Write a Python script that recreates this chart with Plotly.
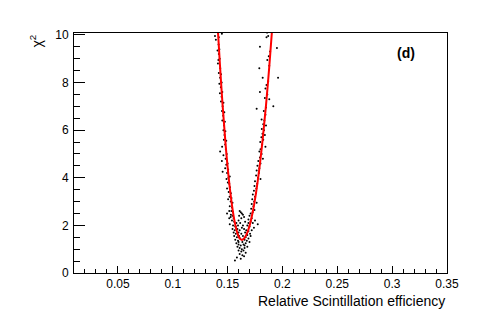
import plotly.graph_objects as go

# fitted curve
curve_x = [0.1410, 0.1430, 0.1455, 0.1480, 0.1505, 0.1535, 0.1560, 0.1585, 0.1610, 0.1630,
           0.1650, 0.1675, 0.1700, 0.1730, 0.1760, 0.1790, 0.1820, 0.1850, 0.1880, 0.1905]
curve_y = [10.32, 8.76, 7.02, 5.51, 4.23, 3.02, 2.26, 1.74, 1.45, 1.39,
           1.45, 1.64, 1.98, 2.58, 3.39, 4.40, 5.62, 7.04, 8.67, 10.19]

# scan points, left branch
left_x = [0.1405, 0.1412, 0.1448, 0.1385, 0.1420, 0.1393, 0.1418, 0.1425, 0.1408, 0.1420,
          0.1428, 0.1416, 0.1412, 0.1433, 0.1420, 0.1440, 0.1432, 0.1446, 0.1425, 0.1438,
          0.1452, 0.1430, 0.1445, 0.1440, 0.1462, 0.1455, 0.1449, 0.1470, 0.1460, 0.1452,
          0.1475, 0.1468, 0.1462, 0.1480, 0.1472, 0.1466, 0.1488, 0.1478, 0.1450, 0.1484,
          0.1432, 0.1492, 0.1462, 0.1482, 0.1448, 0.1500, 0.1488, 0.1478, 0.1505, 0.1495,
          0.1455, 0.1508, 0.1490, 0.1520, 0.1502, 0.1515, 0.1522, 0.1495, 0.1510, 0.1530,
          0.1518, 0.1535, 0.1505, 0.1528, 0.1545, 0.1520, 0.1540, 0.1535, 0.1550, 0.1515,
          0.1545, 0.1528]
left_y = [10.3, 10.1, 10.05, 9.95, 9.9, 9.8, 9.6, 9.4, 9.35, 9.2,
          9.0, 8.95, 8.8, 8.6, 8.4, 8.35, 8.2, 8.0, 7.95, 7.8,
          7.6, 7.55, 7.4, 7.2, 7.15, 7.0, 6.8, 6.75, 6.6, 6.4,
          6.35, 6.2, 6.0, 5.95, 5.8, 5.6, 5.55, 5.4, 5.3, 5.2,
          5.1, 5.0, 4.95, 4.8, 4.7, 4.6, 4.55, 4.4, 4.35, 4.2,
          4.25, 4.0, 3.95, 4.05, 3.8, 3.75, 3.6, 3.55, 3.4, 3.35,
          3.2, 3.15, 3.1, 3.0, 2.95, 2.8, 2.75, 2.6, 2.55, 2.6,
          2.4, 2.35]

# scan points, right branch
right_x = [0.1860, 0.1885, 0.1870, 0.1855, 0.1950, 0.1795, 0.1888, 0.1875, 0.1862, 0.1789,
           0.1880, 0.1960, 0.1820, 0.1870, 0.1855, 0.1845, 0.1795, 0.1862, 0.1840, 0.1880,
           0.1917, 0.1765, 0.1850, 0.1830, 0.1845, 0.1810, 0.1835, 0.1825, 0.1850, 0.1812,
           0.1832, 0.1818, 0.1840, 0.1808, 0.1825, 0.1798, 0.1815, 0.1845, 0.1800, 0.1790,
           0.1810, 0.1795, 0.1822, 0.1780, 0.1800, 0.1772, 0.1790, 0.1765, 0.1785, 0.1760,
           0.1778, 0.1800, 0.1750, 0.1770, 0.1745, 0.1762, 0.1740, 0.1758, 0.1730, 0.1750,
           0.1725, 0.1742, 0.1765, 0.1720, 0.1735, 0.1715, 0.1745, 0.1728, 0.1710]
right_y = [10.1, 10.2, 9.95, 9.9, 9.45, 9.5, 9.3, 9.1, 8.95, 8.6,
           8.7, 8.2, 8.2, 8.05, 7.9, 7.75, 7.6, 7.5, 7.35, 7.3,
           7.0, 6.9, 6.95, 6.8, 6.65, 6.45, 6.4, 6.25, 6.2, 6.05,
           6.0, 5.85, 5.8, 5.7, 5.6, 5.5, 5.4, 5.3, 5.2, 5.1,
           5.0, 4.85, 4.8, 4.7, 4.6, 4.5, 4.4, 4.3, 4.2, 4.1,
           4.0, 3.95, 3.85, 3.75, 3.65, 3.55, 3.45, 3.35, 3.3, 3.2,
           3.1, 3.0, 2.95, 2.9, 2.8, 2.7, 2.65, 2.55, 2.5]

# scan points, cloud around the minimum
bottom_x = [0.1495, 0.1530, 0.1555, 0.1610, 0.1620, 0.1630, 0.1605, 0.1640, 0.1650, 0.1625,
            0.1700, 0.1720, 0.1690, 0.1540, 0.1560, 0.1580, 0.1600, 0.1615, 0.1660, 0.1710,
            0.1730, 0.1750, 0.1775, 0.1520, 0.1550, 0.1570, 0.1595, 0.1640, 0.1680, 0.1700,
            0.1740, 0.1545, 0.1565, 0.1590, 0.1610, 0.1650, 0.1670, 0.1690, 0.1720, 0.1555,
            0.1575, 0.1600, 0.1625, 0.1660, 0.1680, 0.1705, 0.1560, 0.1585, 0.1605, 0.1640,
            0.1665, 0.1690, 0.1570, 0.1595, 0.1615, 0.1635, 0.1655, 0.1675, 0.1700, 0.1580,
            0.1600, 0.1620, 0.1645, 0.1665, 0.1590, 0.1610, 0.1630, 0.1655, 0.1680, 0.1600,
            0.1625, 0.1645, 0.1665, 0.1610, 0.1635, 0.1650, 0.1585, 0.1620, 0.1567, 0.1600,
            0.1655, 0.1710, 0.1575, 0.1515, 0.1690, 0.1630, 0.1595]
bottom_y = [2.5, 2.45, 2.3, 2.6, 2.55, 2.5, 2.4, 2.45, 2.35, 2.3,
            2.4, 2.3, 2.25, 2.2, 2.15, 2.1, 2.2, 2.1, 2.15, 2.15,
            2.1, 2.2, 2.05, 2.05, 2.0, 1.95, 2.0, 2.0, 2.0, 1.95,
            1.9, 1.85, 1.8, 1.85, 1.8, 1.85, 1.8, 1.75, 1.8, 1.7,
            1.65, 1.7, 1.65, 1.7, 1.6, 1.65, 1.55, 1.5, 1.55, 1.55,
            1.5, 1.45, 1.4, 1.35, 1.45, 1.3, 1.4, 1.35, 1.3, 1.25,
            1.2, 1.15, 1.2, 1.25, 1.1, 1.05, 1.0, 1.05, 1.1, 0.95,
            0.9, 0.95, 0.85, 0.8, 0.75, 0.7, 0.65, 0.6, 0.52, 1.3,
            1.15, 1.55, 1.95, 2.3, 2.1, 1.9, 1.6]

FONT = "Liberation Sans, Arial, Helvetica, sans-serif"

fig = go.Figure()
fig.add_trace(go.Scatter(
    x=left_x + right_x + bottom_x, y=left_y + right_y + bottom_y,
    mode="markers", marker=dict(size=2, color="black"), showlegend=False,
))
fig.add_trace(go.Scatter(
    x=curve_x, y=curve_y, mode="lines",
    line=dict(color="#ff0000", width=2, shape="spline"), showlegend=False,
))

axis_common = dict(
    showgrid=False, zeroline=False, showline=True, mirror=True,
    linecolor="black", linewidth=1, ticks="inside", tickcolor="black", tickwidth=1,
    tickfont=dict(family=FONT, size=12, color="black"),
)
fig.update_xaxes(
    range=[0.01, 0.35], tick0=0, dtick=0.05, ticklen=7,
    minor=dict(ticks="inside", dtick=0.01, tick0=0, ticklen=4, tickcolor="black"),
    **axis_common,
)
fig.update_yaxes(
    range=[0, 10.08], tick0=0, dtick=2, ticklen=11, ticklabelstandoff=2,
    minor=dict(ticks="inside", dtick=0.5, tick0=0, ticklen=6, tickcolor="black"),
    **axis_common,
)

fig.add_annotation(
    text="Relative Scintillation efficiency", xref="paper", yref="paper",
    x=1, y=0, xanchor="right", yanchor="top", yshift=-18, showarrow=False,
    font=dict(family=FONT, size=14, color="black"),
)
fig.add_annotation(
    text="χ<sup>2</sup>", xref="paper", yref="paper", x=0, y=1,
    xanchor="center", yanchor="top", xshift=-38, textangle=-90, showarrow=False,
    font=dict(family=FONT, size=14, color="black"),
)
fig.add_annotation(
    text="<b>(d)</b>", xref="paper", yref="paper", x=0.89, y=0.917,
    xanchor="center", yanchor="middle",
    showarrow=False, font=dict(family=FONT, size=14, color="black"),
)

# the page body adds 8px around the plot, so margins are set 8px short
fig.update_layout(
    width=497, height=322,
    margin=dict(l=66, r=58, t=25, b=57),
    paper_bgcolor="white", plot_bgcolor="white",
)
fig.write_html("out.html")
